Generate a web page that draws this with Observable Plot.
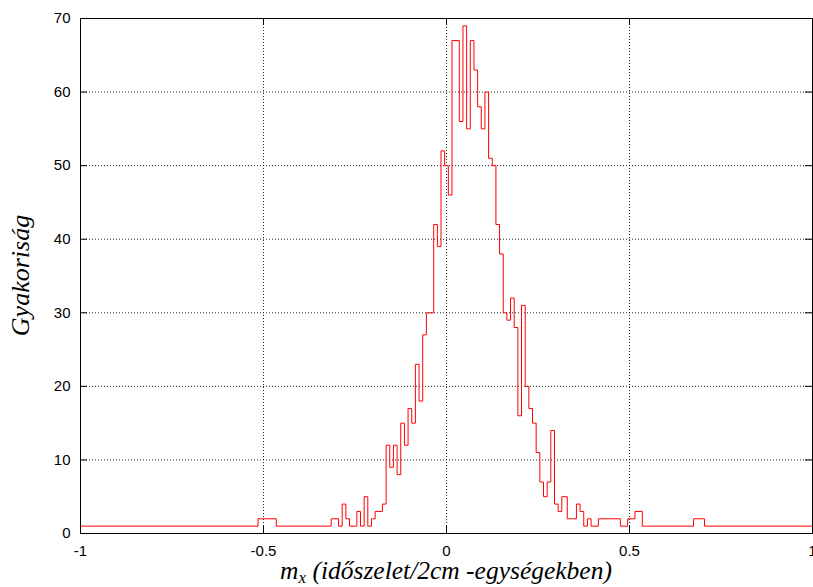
<!DOCTYPE html>
<html>
<head>
<meta charset="utf-8">
<script src="https://cdn.jsdelivr.net/npm/d3@7"></script>
<script src="https://cdn.jsdelivr.net/npm/@observablehq/plot@0.6"></script>
<style>
  html, body { margin: 0; padding: 0; background: #fff; }
  #chart { width: 813px; height: 587px; overflow: hidden; }
</style>
</head>
<body>
<div id="chart"></div>
<script>
// Histogram (step outline): left edge of each run and its count
const binEdges = [
  -1, -0.515, -0.465, -0.315, -0.295, -0.285, -0.275, -0.265, -0.245, -0.235,
  -0.225, -0.215, -0.205, -0.195, -0.175, -0.165, -0.155, -0.145, -0.135, -0.125,
  -0.115, -0.105, -0.095, -0.085, -0.075, -0.065, -0.055, -0.035, -0.025, -0.015,
  -0.005, 0.005, 0.015, 0.035, 0.045, 0.055, 0.065, 0.075, 0.085, 0.095,
  0.105, 0.115, 0.125, 0.135, 0.145, 0.155, 0.165, 0.175, 0.185, 0.195,
  0.205, 0.215, 0.225, 0.235, 0.245, 0.255, 0.265, 0.275, 0.285, 0.295,
  0.305, 0.315, 0.33, 0.355, 0.365, 0.375, 0.385, 0.395, 0.415, 0.475,
  0.495, 0.515, 0.535, 0.675, 0.705
];
const counts = [
  1, 2, 1, 2, 1, 4, 2, 1, 3, 1,
  5, 1, 2, 3, 4, 12, 9, 12, 8, 15,
  12, 17, 15, 23, 18, 27, 30, 42, 39, 52,
  50, 46, 67, 56, 69, 55, 67, 63, 58, 55,
  60, 51, 50, 42, 38, 30, 29, 32, 28, 16,
  31, 20, 17, 15, 11, 7, 5, 7, 14, 4,
  3, 5, 2, 4, 3, 1, 2, 1, 2, 1,
  2, 3, 1, 2, 1
];
const xEnd = 1;

const xTicks = [-1, -0.5, 0, 0.5, 1];
const xTickLabels = ["-1", "-0.5", "0", "0.5", "1"];
const yTicks = [0, 10, 20, 30, 40, 50, 60, 70];
const xGrid = [-0.5, 0, 0.5];
const yGrid = [10, 20, 30, 40, 50, 60];

const yLabel = "Gyakoriság";
const xLabelMain = "m";
const xLabelSub = "x";
const xLabelRest = " (időszelet/2cm -egységekben)";

const data = binEdges.map((x, i) => ({x, y: counts[i]}));
data.push({x: xEnd, y: counts[counts.length - 1]});

const W = 813, H = 587;
const mL = 80, mR = 1, mT = 18, mB = 54;
const innerW = W - mL - mR, innerH = H - mT - mB;
const tickLen = 7;

const svg = Plot.plot({
  width: W,
  height: H,
  marginLeft: mL,
  marginRight: mR,
  marginTop: mT,
  marginBottom: mB,
  style: {fontFamily: "'Liberation Sans', Arial, Helvetica, sans-serif", fontSize: "15px", background: "#fff", overflow: "visible"},
  x: {domain: [-1, 1]},
  y: {domain: [0, 70]},
  marks: [
    Plot.gridX(xGrid, {stroke: "#000", strokeOpacity: 0.85, strokeDasharray: "1,2"}),
    Plot.gridY(yGrid, {stroke: "#000", strokeOpacity: 0.85, strokeDasharray: "1,2"}),
    Plot.line(data, {x: "x", y: "y", curve: "step-after", stroke: "#ff0000", strokeWidth: 1}),
    Plot.ruleX(xTicks, {stroke: "#000", insetTop: innerH - tickLen}),
    Plot.ruleX(xTicks, {stroke: "#000", insetBottom: innerH - tickLen}),
    Plot.ruleY(yTicks, {stroke: "#000", insetRight: innerW - tickLen}),
    Plot.ruleY(yTicks, {stroke: "#000", insetLeft: innerW - tickLen}),
    Plot.frame({stroke: "#000"}),
    Plot.axisX({ticks: xTicks, tickSize: 0, tickPadding: 12, fontSize: 15,
      tickFormat: d => xTickLabels[xTicks.indexOf(d)], label: null}),
    Plot.axisY({ticks: yTicks, tickSize: 0, tickPadding: 10, fontSize: 15,
      tickFormat: d => String(d), label: null})
  ]
});

const s = d3.select(svg);
s.append("text")
  .attr("transform", `translate(29,${mT + innerH / 2}) rotate(-90)`)
  .attr("text-anchor", "middle")
  .attr("font-family", "'Liberation Serif', 'Times New Roman', serif")
  .attr("font-style", "italic")
  .attr("font-size", 26)
  .attr("fill", "#000")
  .text(yLabel);

const xl = s.append("text")
  .attr("x", mL + innerW / 2)
  .attr("y", 579)
  .attr("text-anchor", "middle")
  .attr("font-family", "'Liberation Serif', 'Times New Roman', serif")
  .attr("font-style", "italic")
  .attr("font-size", 25.5)
  .attr("fill", "#000");
xl.append("tspan").text(xLabelMain);
xl.append("tspan").attr("font-size", 17).attr("dy", 4).text(xLabelSub);
xl.append("tspan").attr("dy", -4).text(xLabelRest);

document.getElementById("chart").appendChild(svg);
</script>
</body>
</html>
